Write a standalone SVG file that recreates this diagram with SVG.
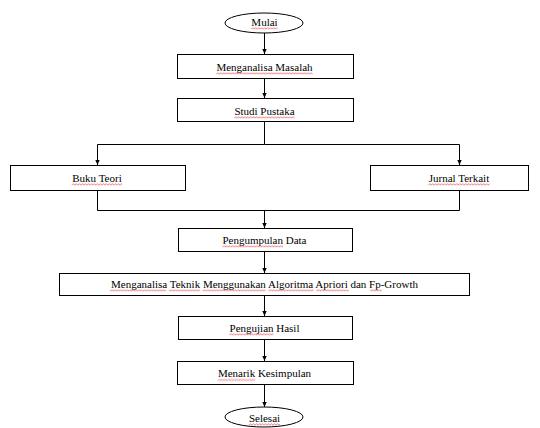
<svg xmlns="http://www.w3.org/2000/svg" width="540" height="428" viewBox="0 0 540 428">
<style>
.box{fill:#fff;stroke:#000;stroke-width:1}
.t{font-family:'Liberation Serif','DejaVu Serif',serif;font-size:11px;fill:#000;text-anchor:middle}
.c{fill:none;stroke:#000;stroke-width:1}
.sq{fill:url(#sq)}
</style>
<defs>
<marker id="ah" markerWidth="6" markerHeight="6" refX="5" refY="3" orient="auto" markerUnits="userSpaceOnUse">
<path d="M0,0.8 L5,3 L0,5.2 Z" fill="#000"/>
</marker>
<pattern id="sq" patternUnits="userSpaceOnUse" width="3" height="3">
<path d="M0,2.2 L1.5,0.8 L3,2.2" fill="none" stroke="#e23b3b" stroke-width="0.7"/>
</pattern>
</defs>
<rect width="540" height="428" fill="#fff"/>
<g id="connectors">
<line class="c" x1="264.5" y1="33" x2="264.5" y2="54" marker-end="url(#ah)"/>
<line class="c" x1="264.5" y1="79" x2="264.5" y2="98" marker-end="url(#ah)"/>
<polyline class="c" points="264.5,122 264.5,144.5 97.5,144.5 97.5,165" marker-end="url(#ah)"/>
<polyline class="c" points="264.5,144.5 459.5,144.5 459.5,165" marker-end="url(#ah)"/>
<polyline class="c" points="97.5,191 97.5,210.5 459.5,210.5 459.5,191"/>
<line class="c" x1="264.5" y1="210.5" x2="264.5" y2="228" marker-end="url(#ah)"/>
<line class="c" x1="264.5" y1="252" x2="264.5" y2="273" marker-end="url(#ah)"/>
<line class="c" x1="264.5" y1="296" x2="264.5" y2="316" marker-end="url(#ah)"/>
<line class="c" x1="264.5" y1="340" x2="264.5" y2="361" marker-end="url(#ah)"/>
<line class="c" x1="264.5" y1="385" x2="264.5" y2="407" marker-end="url(#ah)"/>
</g>
<g id="mulai"><ellipse class="box" cx="264" cy="23" rx="39" ry="10"/><text class="t" x="264.5" y="25.5">Mulai</text><rect class="sq" transform="translate(251.3,27)" width="26.3" height="3"/></g>
<g id="menganalisa-masalah"><rect class="box" x="177.5" y="54.5" width="176" height="24"/><text class="t" x="264.5" y="70.5">Menganalisa Masalah</text><rect class="sq" transform="translate(216.4,72)" width="96.2" height="3"/></g>
<g id="studi-pustaka"><rect class="box" x="177.5" y="98.5" width="176" height="23"/><text class="t" x="264.5" y="114.5">Studi Pustaka</text><rect class="sq" transform="translate(234.4,116)" width="60.2" height="3"/></g>
<g id="buku-teori"><rect class="box" x="10.5" y="165.5" width="175" height="25"/><text class="t" x="97" y="181.5">Buku Teori</text><rect class="sq" transform="translate(71.8,183)" width="50.4" height="3"/></g>
<g id="jurnal-terkait"><rect class="box" x="370.5" y="165.5" width="158" height="25"/><text class="t" x="459" y="181.5">Jurnal Terkait</text><rect class="sq" transform="translate(428.3,183)" width="61.4" height="3"/></g>
<g id="pengumpulan-data"><rect class="box" x="178.5" y="228.5" width="174" height="23"/><text class="t" x="264.5" y="243.5">Pengumpulan Data</text><rect class="sq" transform="translate(222.5,245)" width="60.5" height="3"/></g>
<g id="menganalisa-teknik"><rect class="box" x="59.5" y="273.5" width="410" height="22"/><text class="t" x="264.5" y="287.5">Menganalisa Teknik Menggunakan Algoritma Apriori dan Fp-Growth</text>
<g transform="translate(-0.5,289)"><rect class="sq" x="110.4" width="56.2" height="3"/><rect class="sq" x="169.4" width="31.1" height="3"/><rect class="sq" x="203.3" width="62.9" height="3"/><rect class="sq" x="269" width="45.2" height="3"/><rect class="sq" x="316.9" width="32.4" height="3"/><rect class="sq" x="370.7" width="11.6" height="3"/></g></g>
<g id="pengujian-hasil"><rect class="box" x="178.5" y="316.5" width="174" height="23"/><text class="t" x="264.5" y="331.5">Pengujian Hasil</text><rect class="sq" transform="translate(229.5,333)" width="44" height="3"/></g>
<g id="menarik-kesimpulan"><rect class="box" x="177.5" y="361.5" width="176" height="23"/><text class="t" x="264.5" y="377">Menarik Kesimpulan</text><rect class="sq" transform="translate(217.9,378.5)" width="37.3" height="3"/></g>
<g id="selesai"><ellipse class="box" cx="264" cy="417" rx="39" ry="10"/><text class="t" x="264.5" y="421.5">Selesai</text><rect class="sq" transform="translate(248.9,423)" width="31.2" height="3"/></g>
</svg>
